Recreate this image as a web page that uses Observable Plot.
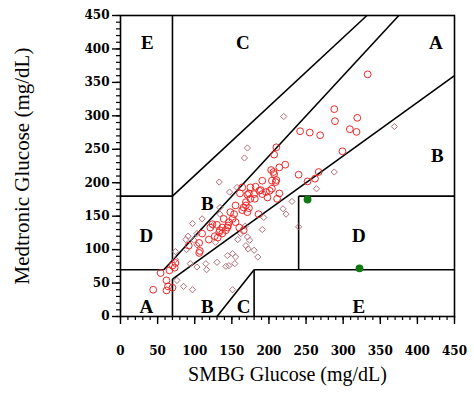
<!DOCTYPE html>
<html><head><meta charset="utf-8">
<script src="https://cdn.jsdelivr.net/npm/d3@7"></script>
<script src="https://cdn.jsdelivr.net/npm/@observablehq/plot@0.6"></script>
<style>body{margin:0;background:#fff;}</style>
</head><body><div id="chart"></div>
<script>
// Measurement data (mg/dL): SMBG (x) vs Medtronic (y)
const circleX = [333,288,289,319,309,318,242,255,269,299,210,207,222,214,207,209,204,191,240,252,267,262,214,211,204,196,198,191,182,187,173,175,181,169,166,173,171,164,186,155,153,148,151,155,146,139,137,144,133,137,130,160,166,201,180,189,92,107,106,110,121,119,127,131,134,124,142,145,169,161,164,171,175,210,206,203,44,62,64,70,54,66,70,74,73,106,62];
const circleY = [362,310,292,297,280,276,277,275,271,247,253,242,227,223,213,201,203,203,212,202,216,206,184,176,191,186,178,183,194,188,184,176,176,171,163,162,156,159,153,166,153,156,146,141,141,146,133,133,126,124,137,133,129,188,183,189,106,98,110,124,133,115,120,118,129,138,129,136,166,184,193,182,193,204,216,219,40,54,45,43,65,69,76,80,73,95,39];
const diamondX = [220,369,171,167,288,133,147,157,264,231,219,223,193,240,97,110,74,88,103,124,134,115,130,142,146,151,155,158,171,174,169,172,180,185,168,162,191,103,85,97,151,74,89,91,103,128,94,116,76,134,99,144,154];
const diamondY = [299,284,252,237,216,201,186,193,191,172,161,153,148,134,139,146,97,115,124,136,153,79,81,75,76,94,89,115,119,114,106,101,99,89,135,124,130,74,45,40,40,85,100,120,107,111,79,70,54,163,114,91,79];
const greenX = [252,322];
const greenY = [175,72];

// Clarke error grid zone boundaries
const gridX1 = [0,58.33,70,0,70,70,70,180,180,240,240,130];
const gridY1 = [70,70,84,180,180,0,56,0,70,70,180,0];
const gridX2 = [58.33,375,70,70,332,70,450,180,450,240,450,180];
const gridY2 = [70,450,450,180,450,56,360,70,70,180,180,70];

// Zone letters
const zoneLetters = ["E","C","A","B","B","D","D","A","B","C","E"];
const zoneX = [36,165,425,427,117,35,321,35,117,166,321];
const zoneY = [409,409,409,240,169,120,121,15,15,15,15];

const majorTicks = [0,50,100,150,200,250,300,350,400,450];
const minorTicks = d3.range(0, 451, 10);
const xLabel = "SMBG Glucose (mg/dL)";
const yLabel = "Medtronic Glucose (mg/dL)";

const circles = circleX.map((x,i)=>({x, y: circleY[i]}));
const diamonds = diamondX.map((x,i)=>({x, y: diamondY[i]}));
const greens = greenX.map((x,i)=>({x, y: greenY[i]}));
const grid = gridX1.map((x1,i)=>({x1, y1: gridY1[i], x2: gridX2[i], y2: gridY2[i]}));
const zones = zoneLetters.map((t,i)=>({t, x: zoneX[i], y: zoneY[i]}));

const serif = "'Liberation Serif', 'DejaVu Serif', serif";
const tickFont = {fontFamily: "'DejaVu Serif', serif", fontWeight: "bold", fontSize: 12};

const chart = Plot.plot({
  width: 474, height: 393,
  marginLeft: 120, marginRight: 20, marginTop: 15, marginBottom: 77,
  x: {domain: [0,450]},
  y: {domain: [0,450]},
  style: {background: "white", color: "black"},
  marks: [
    Plot.axisX({ticks: minorTicks, tickSize: 4, tickFormat: () => "", label: null, strokeWidth: 1.2}),
    Plot.axisY({ticks: minorTicks, tickSize: 4, tickFormat: () => "", label: null, strokeWidth: 1.2}),
    Plot.axisX({ticks: majorTicks, tickSize: 8, tickPadding: 22, label: null, strokeWidth: 1.4, ...tickFont}),
    Plot.axisY({ticks: majorTicks, tickSize: 8, tickPadding: 3, label: null, strokeWidth: 1.4, ...tickFont}),
    Plot.link(grid, {x1: "x1", y1: "y1", x2: "x2", y2: "y2", stroke: "black", strokeWidth: 1.6}),
    Plot.dot(diamonds, {x: "x", y: "y", symbol: "diamond2", r: 2.8, stroke: "#b5707c", strokeWidth: 1}),
    Plot.dot(circles, {x: "x", y: "y", symbol: "circle", r: 3.4, stroke: "#f02828", strokeWidth: 1}),
    Plot.dot(greens, {x: "x", y: "y", r: 3.2, fill: "#137a13", stroke: "#137a13"}),
    Plot.text(zones, {x: "x", y: "y", text: "t", fontFamily: serif, fontWeight: "bold", fontSize: 19, fill: "black"}),
    Plot.frame({stroke: "black", strokeWidth: 1.6}),
    Plot.text([xLabel], {frameAnchor: "bottom", textAnchor: "middle", dy: 64, fontFamily: serif, fontSize: 20, fill: "black"}),
    Plot.text([yLabel], {frameAnchor: "left", textAnchor: "middle", dx: -98, rotate: -90, fontFamily: serif, fontSize: 21, fill: "black"})
  ]
});
document.getElementById("chart").append(chart);
</script>
</body></html>
